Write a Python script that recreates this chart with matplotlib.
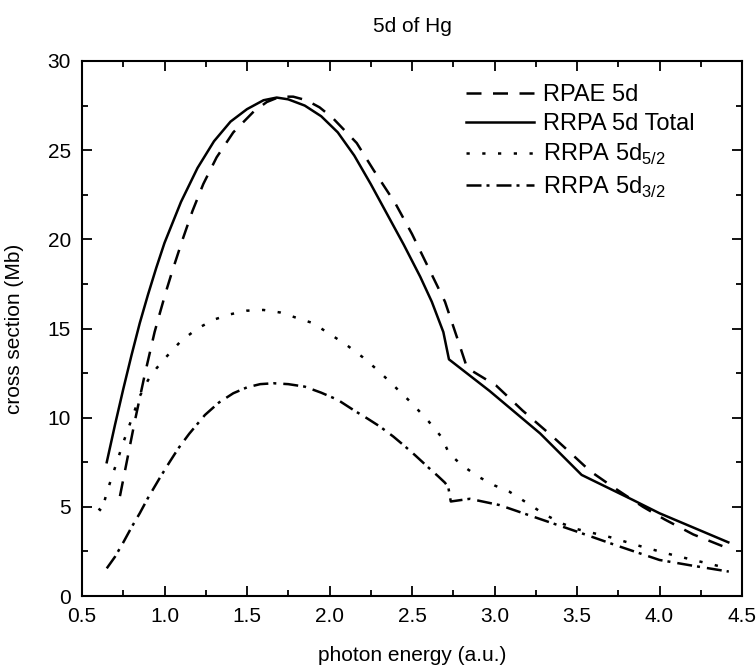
import matplotlib
matplotlib.use("Agg")
import matplotlib.pyplot as plt
from matplotlib.ticker import MultipleLocator

plt.rcParams['font.family'] = ['Liberation Sans', 'DejaVu Sans']
plt.rcParams['mathtext.fontset'] = 'custom'
plt.rcParams['mathtext.rm'] = 'Liberation Sans'

# RPAE 5d (dashed)
rpae_x = [0.73, 0.76, 0.79, 0.82, 0.85, 0.88, 0.91, 0.94, 0.97, 1.01, 1.05, 1.11, 1.17,
          1.235, 1.316, 1.417, 1.54, 1.62, 1.70, 1.78, 1.86, 1.94, 2.02, 2.165, 2.266,
          2.40, 2.50, 2.60, 2.70, 2.78, 2.83, 2.85, 3.01, 3.17, 3.357, 3.44, 3.58, 3.72,
          3.90, 4.03, 4.205, 4.40]
rpae_y = [5.6, 7.0, 8.4, 9.8, 11.1, 12.4, 13.6, 14.8, 15.8, 17.1, 18.3, 20.0, 21.6,
          23.1, 24.6, 26.0, 27.16, 27.7, 28.0, 28.0, 27.8, 27.4, 26.8, 25.4, 23.9,
          22.0, 20.3, 18.4, 16.5, 14.3, 12.9, 12.7, 11.8, 10.4, 8.9, 8.2, 7.0, 6.1,
          5.0, 4.3, 3.45, 2.73]

# RRPA 5d Total (solid)
total_x = [0.65, 0.70, 0.75, 0.80, 0.85, 0.90, 0.95, 1.0, 1.1, 1.2, 1.3, 1.4, 1.5, 1.6,
           1.68, 1.75, 1.85, 1.95, 2.05, 2.15, 2.25, 2.35, 2.45, 2.55, 2.62, 2.69,
           2.724, 2.97, 3.276, 3.528, 3.84, 4.0, 4.417]
total_y = [7.5, 9.6, 11.6, 13.5, 15.3, 16.9, 18.4, 19.8, 22.1, 24.0, 25.5, 26.6, 27.3, 27.8,
           27.95, 27.85, 27.5, 26.9, 26.0, 24.7, 23.1, 21.4, 19.7, 17.9, 16.5, 14.8,
           13.27, 11.5, 9.12, 6.79, 5.38, 4.64, 3.01]

# RRPA 5d5/2 (dotted)
d52_x = [0.60, 0.62, 0.65, 0.70, 0.75, 0.80, 0.85, 0.90, 0.95, 1.0, 1.1, 1.2, 1.3, 1.4,
         1.5, 1.6, 1.7, 1.8, 1.9, 2.0, 2.1, 2.2, 2.3, 2.4, 2.5, 2.6, 2.68, 2.724, 2.8,
         2.9, 3.0, 3.09, 3.185, 3.3, 3.4, 3.5, 3.7, 3.9, 4.08, 4.376]
d52_y = [4.9, 4.75, 5.8, 7.2, 8.6, 9.9, 11.2, 12.1, 12.75, 13.3, 14.3, 15.0, 15.5, 15.8,
         16.0, 16.04, 15.9, 15.6, 15.3, 14.7, 14.1, 13.4, 12.6, 11.7, 10.8, 9.8, 8.9, 8.0, 7.35,
         6.7, 6.2, 5.85, 5.29, 4.6, 4.1, 3.75, 3.3, 2.75, 2.3, 1.64]

# RRPA 5d3/2 (dash-dot)
d32_x = [0.65, 0.70, 0.75, 0.80, 0.85, 0.90, 0.97, 1.03, 1.084, 1.15, 1.245, 1.33, 1.417,
         1.5, 1.58, 1.66, 1.75, 1.85, 1.95, 2.05, 2.15, 2.23, 2.306, 2.387, 2.45, 2.518,
         2.6, 2.66, 2.70, 2.72, 2.735, 2.85, 3.03, 3.25, 3.5, 3.75, 4.0, 4.2, 4.42]
d32_y = [1.55, 2.2, 3.0, 3.85, 4.64, 5.5, 6.6, 7.5, 8.28, 9.1, 10.15, 10.85, 11.37,
         11.7, 11.88, 11.93, 11.88, 11.74, 11.4, 11.0, 10.4, 9.95, 9.5, 8.94, 8.45, 7.9,
         7.2, 6.7, 6.35, 6.1, 5.3, 5.45, 5.1, 4.4, 3.61, 2.8, 2.02, 1.7, 1.37]

labels = ['RPAE 5d', 'RRPA 5d Total', r'RRPA 5d$_{5/2}$', r'RRPA 5d$_{3/2}$']

fig = plt.figure(figsize=(7.56, 6.68), dpi=100)
ax = fig.add_axes([82/756, 1-596/668, 660/756, 535/668])

lw = 1.8
ax.plot(rpae_x, rpae_y, color='black', lw=lw, linestyle=(0, (6.0, 4.6)), label=labels[0])
ax.plot(total_x, total_y, color='black', lw=lw, linestyle='-', label=labels[1])
ax.plot(d52_x, d52_y, color='black', lw=lw, linestyle=(0, (1.3, 5.0)), label=labels[2])
ax.plot(d32_x, d32_y, color='black', lw=lw, linestyle=(0, (6.0, 2.0, 1.2, 2.8)), label=labels[3])

ax.set_xlim(0.5, 4.5)
ax.set_ylim(0, 30)
ax.xaxis.set_major_locator(MultipleLocator(0.5))
ax.xaxis.set_minor_locator(MultipleLocator(0.25))
ax.yaxis.set_major_locator(MultipleLocator(5))
ax.yaxis.set_minor_locator(MultipleLocator(2.5))
ax.xaxis.set_major_formatter(plt.FormatStrFormatter('%.1f'))
ax.tick_params(which='both', direction='in', top=True, right=True, width=1.3, labelsize=15)
ax.tick_params(which='major', length=7, pad=8)
ax.tick_params(which='minor', length=4.5)
for s in ax.spines.values():
    s.set_linewidth(1.5)

ax.set_xlabel('photon energy (a.u.)', fontsize=15, labelpad=14)
ax.set_ylabel('cross section (Mb)', fontsize=15, labelpad=17)
fig.text(412/756, 1-26/668, '5d of Hg', ha='center', va='center', fontsize=15)

ax.legend(loc='upper left', bbox_to_anchor=(466/756, 1-84/668), bbox_transform=fig.transFigure,
          frameon=False, fontsize=17, handlelength=2.9, handletextpad=0.35,
          labelspacing=0.3, borderpad=0, borderaxespad=0)

fig.savefig('out.png', dpi=100)
